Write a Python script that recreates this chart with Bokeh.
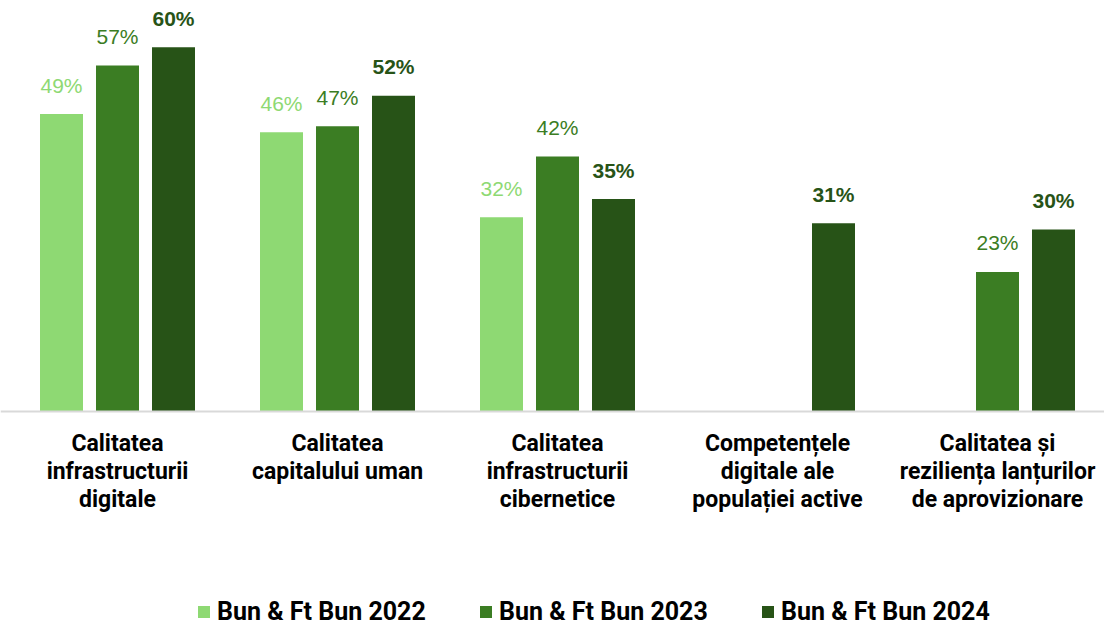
from bokeh.plotting import figure
from bokeh.models import Range1d, Span, Legend, LegendItem, ColumnDataSource
from bokeh.core.properties import value
from bokeh.embed import file_html
from bokeh.resources import INLINE

categories = [
    "Calitatea\ninfrastructurii\ndigitale",
    "Calitatea\ncapitalului uman",
    "Calitatea\ninfrastructurii\ncibernetice",
    "Competențele\ndigitale ale\npopulației active",
    "Calitatea și\nreziliența lanțurilor\nde aprovizionare",
]
series = ["Bun & Ft Bun 2022", "Bun & Ft Bun 2023", "Bun & Ft Bun 2024"]
v2022 = [49, 46, 32, None, None]
v2023 = [57, 47, 42, None, 23]
v2024 = [60, 52, 35, 31, 30]
colors = ["#8ED973", "#3B7D23", "#275317"]
label_styles = ["normal", "normal", "bold"]

W, H = 1104, 626
PX_X = 220.0      # pixels per category
PX_Y = 6.07       # pixels per percent
BASE = 411        # baseline from top of figure

x0 = 0.5 - 117 / PX_X
p = figure(width=W, height=H, output_backend="svg", toolbar_location=None,
           x_range=Range1d(x0, x0 + W / PX_X),
           y_range=Range1d(-(H - BASE) / PX_Y, BASE / PX_Y),
           x_axis_location=None, y_axis_location=None,
           min_border=0, min_border_left=0, min_border_right=0,
           min_border_top=0, min_border_bottom=0)
p.outline_line_color = None
p.grid.visible = False
p.background_fill_color = "white"

LABEL_FONT = "Liberation Sans"
CAT_FONT = "Roboto"

bar_w = 43 / PX_X
step = 56 / PX_X
renderers = []
for j, (name, vals) in enumerate(zip(series, [v2022, v2023, v2024])):
    xs, tops, labels = [], [], []
    for i, v in enumerate(vals):
        if v is None:
            continue
        xs.append(i + 0.5 + (j - 1) * step)
        tops.append(v)
        labels.append(f"{v}%")
    src = ColumnDataSource(dict(x=xs, top=tops, label=labels))
    r = p.vbar(x="x", top="top", bottom=0, width=bar_w, source=src,
               fill_color=colors[j], line_color=None)
    renderers.append(r)
    p.text(x="x", y="top", text="label", source=src,
           text_font=value(LABEL_FONT), text_font_size="21px",
           text_font_style=label_styles[j], text_color=colors[j],
           text_align="center", text_baseline="alphabetic", y_offset=-29)

p.add_layout(Span(location=0, dimension="width", line_color="#D9D9D9", line_width=2))

cat_src = ColumnDataSource(dict(x=[i + 0.5 for i in range(len(categories))],
                                y=[0] * len(categories), text=categories))
p.text(x="x", y="y", text="text", source=cat_src,
       text_font=value(CAT_FONT), text_font_size="23px", text_font_style="bold",
       text_color="#000000", text_align="center", text_baseline="top",
       text_line_height=1.04, y_offset=18)

legend = Legend(items=[LegendItem(label=s, renderers=[r]) for s, r in zip(series, renderers)],
                orientation="horizontal", location=(196, 0),
                glyph_width=15, glyph_height=15, label_standoff=6, spacing=48,
                label_width=213,
                label_text_font=CAT_FONT, label_text_font_size="25px",
                label_text_font_style="bold", label_text_color="#000000",
                padding=0, margin=0, border_line_color=None, background_fill_alpha=0)
p.add_layout(legend)

open("out.html", "w").write(file_html(p, INLINE))
